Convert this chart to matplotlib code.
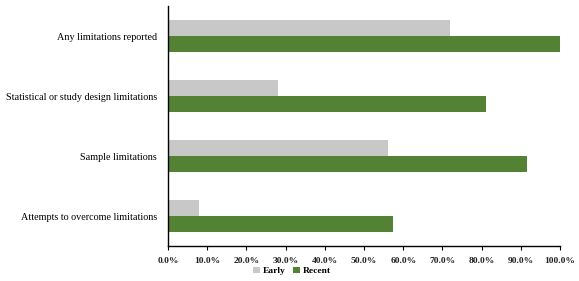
import matplotlib
matplotlib.use("Agg")
import matplotlib.pyplot as plt
import numpy as np
from matplotlib.ticker import PercentFormatter

categories = ["Any limitations reported",
              "Statistical or study design limitations",
              "Sample limitations",
              "Attempts to overcome limitations"]
early = [72.0, 28.0, 56.0, 8.0]
recent = [100.0, 81.0, 91.7, 57.5]
series_names = ["Early", "Recent"]
xticks = [0, 10, 20, 30, 40, 50, 60, 70, 80, 90, 100]

plt.rcParams['font.family'] = ['Liberation Serif', 'DejaVu Serif']

fig = plt.figure(figsize=(5.79, 2.81), dpi=100)
ax = fig.add_axes([168/579, 1-246/281, (560-168)/579, 240/281])

y = np.arange(len(categories))
h = 0.26
ax.barh(y - h/2, early, height=h, color="#C8C8C8", label=series_names[0])
ax.barh(y + h/2, recent, height=h, color="#548235", label=series_names[1])

ax.set_ylim(len(categories) - 0.5, -0.5)
ax.set_xlim(0, 100)
ax.set_xticks(xticks)
ax.xaxis.set_major_formatter(PercentFormatter(decimals=1))
ax.set_yticks(y)
ax.set_yticklabels(categories, fontsize=7.3, fontweight='normal', color='black')
ax.tick_params(axis='y', length=0, pad=8)
ax.tick_params(axis='x', direction='out', length=3, width=0.8, labelsize=6.8, pad=5)
for lbl in ax.get_xticklabels():
    lbl.set_fontweight('bold')
    lbl.set_color('#222222')
for s in ['top', 'right']:
    ax.spines[s].set_visible(False)
for s in ['left', 'bottom']:
    ax.spines[s].set_linewidth(1.0)
    ax.spines[s].set_color('black')

leg = fig.legend(loc='center', bbox_to_anchor=(292/579, 1-271/281), ncol=2,
                 frameon=False, handlelength=0.7, handleheight=0.7,
                 handletextpad=0.3, columnspacing=0.8,
                 prop={'weight': 'bold', 'size': 6.8})

fig.savefig("out.png", dpi=100)
